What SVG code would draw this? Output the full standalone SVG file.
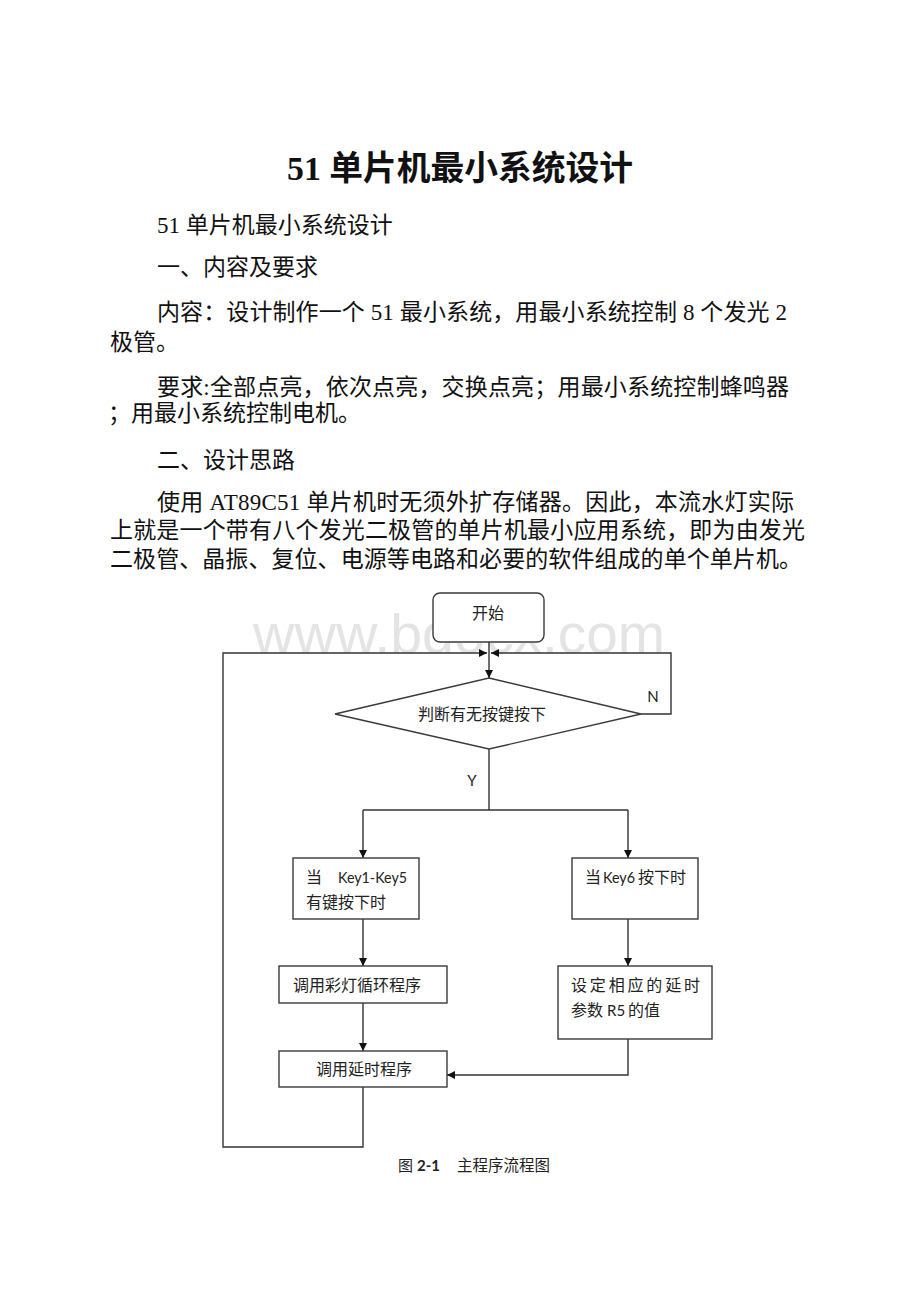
<svg xmlns="http://www.w3.org/2000/svg" width="920" height="1302" viewBox="0 0 920 1302">
<style>
.body{font-family:"Liberation Serif","Noto Sans CJK SC",serif;font-size:23px;fill:#111}
.title{font-family:"Liberation Serif","Noto Sans CJK SC",serif;font-size:34px;font-weight:bold;fill:#111}
.fc{font-family:Lato,"Noto Sans CJK SC",sans-serif;font-size:16px;fill:#222}
.lat{font-family:Lato,"Liberation Sans",sans-serif;font-size:15px;fill:#222}
.box{fill:#fff;stroke:#3a3a3a;stroke-width:1.4}
.conn{fill:none;stroke:#333;stroke-width:1.4}
.wm{font-family:"Liberation Sans",Arial,sans-serif;font-size:56px;fill:#e4e4e4}
</style>
<defs>
<marker id="arr" viewBox="0 0 10 10" refX="10" refY="5" markerWidth="9" markerHeight="8" markerUnits="userSpaceOnUse" orient="auto">
<path d="M0,0 L10,5 L0,10 z" fill="#111"/>
</marker>
<clipPath id="wmclip"><rect x="440" y="643" width="110" height="30"/></clipPath>
</defs>
<rect width="920" height="1302" fill="#fff"/>

<g id="text-body">
<text class="title" x="287" y="180" textLength="346" lengthAdjust="spacingAndGlyphs">51 单片机最小系统设计</text>
<text class="body" x="157" y="233">51 单片机最小系统设计</text>
<text class="body" x="157" y="275">一、内容及要求</text>
<text class="body" x="157" y="320" textLength="630" lengthAdjust="spacing">内容：设计制作一个 51 最小系统，用最小系统控制 8 个发光 2</text>
<text class="body" x="110" y="350">极管。</text>
<text class="body" x="157" y="395" textLength="632" lengthAdjust="spacing">要求:全部点亮，依次点亮，交换点亮；用最小系统控制蜂鸣器</text>
<text class="body" x="108" y="421">；用最小系统控制电机。</text>
<text class="body" x="157" y="468">二、设计思路</text>
<text class="body" x="157" y="510" textLength="637" lengthAdjust="spacing">使用 AT89C51 单片机时无须外扩存储器。因此，本流水灯实际</text>
<text class="body" x="110" y="538" textLength="695" lengthAdjust="spacing">上就是一个带有八个发光二极管的单片机最小应用系统，即为由发光</text>
<text class="body" x="110" y="567" textLength="692" lengthAdjust="spacing">二极管、晶振、复位、电源等电路和必要的软件组成的单个单片机。</text>
</g>

<g id="watermark">
<text class="wm" x="253" y="653" textLength="201" lengthAdjust="spacingAndGlyphs">www.bd</text>
<text class="wm" x="454" y="653" textLength="88" lengthAdjust="spacingAndGlyphs" clip-path="url(#wmclip)">ocx</text>
<text class="wm" x="542" y="653" textLength="123" lengthAdjust="spacingAndGlyphs">.com</text>
</g>

<g id="connectors">
<line class="conn" x1="489" y1="642" x2="489" y2="678" marker-end="url(#arr)"/>
<polyline class="conn" points="641,714 671,714 671,653 491,653" marker-end="url(#arr)"/>
<polyline class="conn" points="489,749 489,810"/>
<line class="conn" x1="363" y1="810" x2="628" y2="810"/>
<line class="conn" x1="363" y1="810" x2="363" y2="858" marker-end="url(#arr)"/>
<line class="conn" x1="628" y1="810" x2="628" y2="858" marker-end="url(#arr)"/>
<line class="conn" x1="363" y1="919" x2="363" y2="966" marker-end="url(#arr)"/>
<line class="conn" x1="628" y1="919" x2="628" y2="966" marker-end="url(#arr)"/>
<line class="conn" x1="363" y1="1003" x2="363" y2="1051" marker-end="url(#arr)"/>
<polyline class="conn" points="628,1039 628,1075 447,1075" marker-end="url(#arr)"/>
<polyline class="conn" points="363,1087 363,1147 223,1147 223,653 487,653" marker-end="url(#arr)"/>
<text class="lat" x="653" y="702" text-anchor="middle">N</text>
<text class="lat" x="472" y="786" text-anchor="middle">Y</text>
</g>

<g id="start">
<rect class="box" x="433" y="593" width="111" height="49" rx="7"/>
<text class="fc" x="488" y="619" text-anchor="middle">开始</text>
</g>

<g id="decision">
<polygon class="box" points="489,678 641,714 489,749 335,714"/>
<text class="fc" x="482" y="720" text-anchor="middle">判断有无按键按下</text>
</g>

<g id="key1-5">
<rect class="box" x="293" y="858" width="126" height="61"/>
<text class="fc" x="306" y="883">当</text>
<text class="lat" x="338" y="883" textLength="69" lengthAdjust="spacingAndGlyphs">Key1-Key5</text>
<text class="fc" x="306" y="908">有键按下时</text>
</g>

<g id="key6">
<rect class="box" x="572" y="858" width="126" height="61"/>
<text class="fc" x="585" y="883">当</text>
<text class="lat" x="603" y="883" textLength="32" lengthAdjust="spacingAndGlyphs">Key6</text>
<text class="fc" x="638" y="883">按下时</text>
</g>

<g id="led-loop">
<rect class="box" x="279" y="966" width="168" height="37"/>
<text class="fc" x="357" y="991" text-anchor="middle">调用彩灯循环程序</text>
</g>

<g id="set-delay">
<rect class="box" x="558" y="966" width="154" height="73"/>
<text class="fc" x="571" y="991" textLength="129" lengthAdjust="spacing">设定相应的延时</text>
<text class="fc" x="571" y="1016">参数</text>
<text class="lat" x="607" y="1016">R5</text>
<text class="fc" x="628" y="1016">的值</text>
</g>

<g id="delay">
<rect class="box" x="279" y="1051" width="168" height="36"/>
<text class="fc" x="364" y="1075" text-anchor="middle">调用延时程序</text>
</g>

<g id="caption">
<text class="fc" x="398" y="1171" style="font-size:15px">图</text>
<text class="lat" x="417" y="1171" style="font-weight:bold">2-1</text>
<text class="fc" x="457" y="1171" style="font-size:15.5px">主程序流程图</text>
</g>
</svg>
